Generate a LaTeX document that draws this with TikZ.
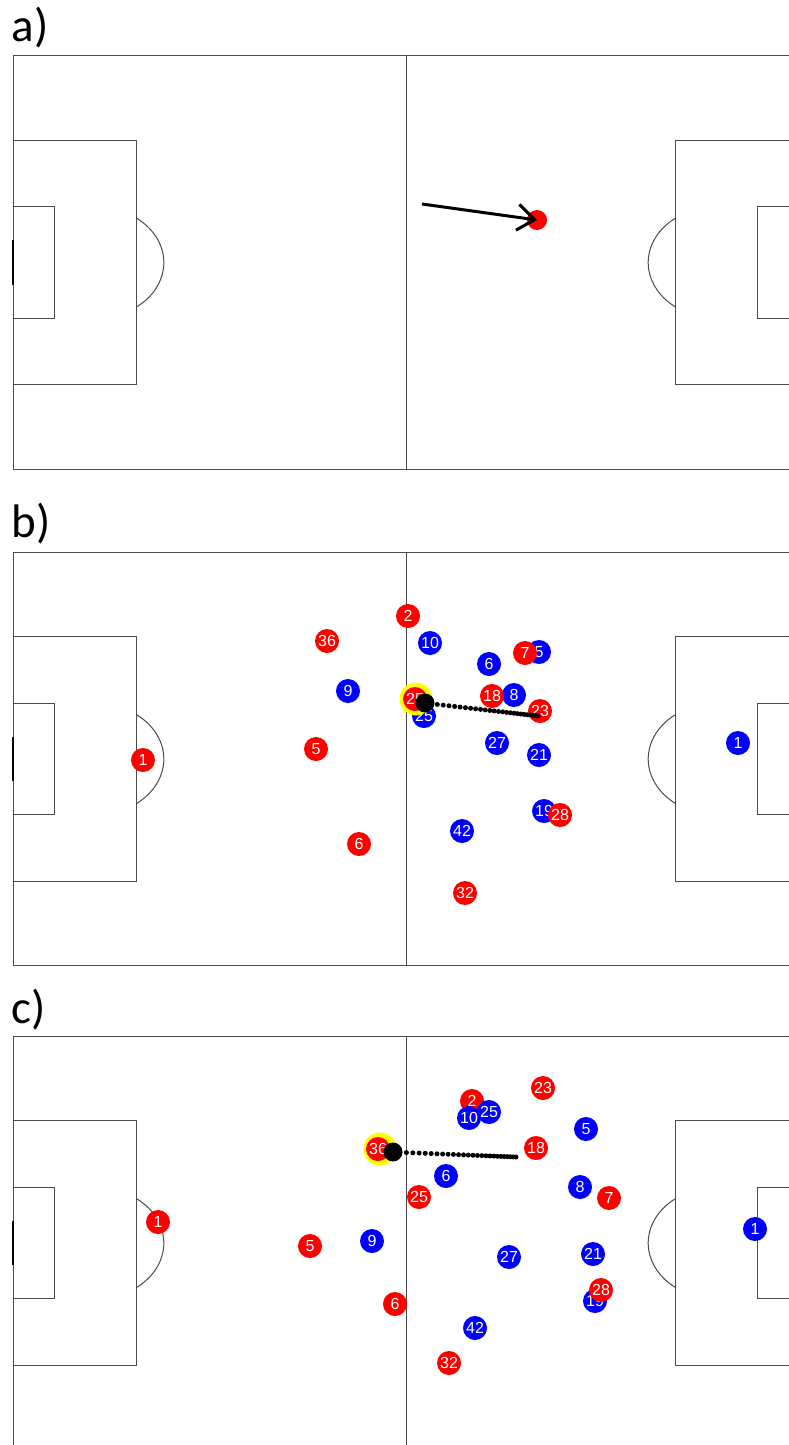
\documentclass[tikz,border=0pt]{standalone}
\usepackage{fontspec}
\setmainfont{Carlito}
\setsansfont{Liberation Sans}
\usetikzlibrary{arrows.meta,calc}
\definecolor{lineaCampo}{HTML}{4A4A4A}
\definecolor{rojoEq}{HTML}{FF0000}
\definecolor{azulEq}{HTML}{0000FF}
\definecolor{resalte}{HTML}{FFFF00}

\tikzset{
  campo/.style={draw=lineaCampo,line width=1pt},
  porteria/.style={draw=black,line width=2.4pt},
  jugador/.style={circle,inner sep=0pt,minimum size=24pt,text=white,
    font={\sffamily\fontsize{16pt}{16pt}\selectfont}},
  rojo/.style={jugador,fill=rojoEq},
  azul/.style={jugador,fill=azulEq},
  aro/.style={circle,inner sep=0pt,minimum size=33pt,fill=resalte},
  balon/.style={circle,inner sep=0pt,minimum size=19pt,fill=black},
  panel/.style={anchor=base west,font={\fontsize{47pt}{47pt}\selectfont}}
}

% pitch 105 x 68 m, top left corner at (13,#1) px
\newcommand{\campo}[1]{%
  \begin{scope}[shift={(13,#1)},x=7.486pt,y=-6.074pt,campo]
    \draw (0,0) rectangle (105,68);
    \draw (52.5,0) -- (52.5,68);
    \draw (0,13.84) rectangle (16.5,54.16);
    \draw (0,24.84) rectangle (5.5,43.16);
    \draw (105,13.84) rectangle (88.5,54.16);
    \draw (105,24.84) rectangle (99.5,43.16);
    \draw (16.5,26.69) arc[start angle=53.06,end angle=-53.06,
      x radius=68.5pt,y radius=55.6pt];
    \draw (88.5,26.69) arc[start angle=126.94,end angle=233.06,
      x radius=68.5pt,y radius=55.6pt];
    \draw[porteria] (0,30.34) -- (0,37.66);
  \end{scope}}

% dotted ball path from #1 to #2
\newcommand{\estela}[2]{%
  \foreach \i in {1,...,26}{
    \pgfmathsetmacro{\t}{(\i/26)*(1.45-0.45*\i/26)}
    \fill ($(#1)!\t!(#2)$) circle[radius=2.5pt];
  }}

\begin{document}
\begin{tikzpicture}[x=1pt,y=-1pt]
  \clip (0,0) rectangle (789,1445);
  \fill[white] (0,0) rectangle (789,1445);

  % a)
  \node[panel] (etqa) at (8,42) {a)};
  \campo{56}
  \node[circle,inner sep=0pt,minimum size=20pt,fill=rojoEq] (pelotaa) at (537,220) {};
  \coordinate (inicioa) at (422,204);
  \draw[line width=3pt,-{Straight Barb[length=17pt,width=26pt]}]
    (inicioa) -- (pelotaa.center);

  % b)
  \node[panel] (etqb) at (8,537) {b)};
  \campo{552.5}
  \node[azul] (b10b) at (430,643) {10};
  \node[azul] (b6b) at (489,664) {6};
  \node[azul] (b5b) at (539,652) {5};
  \node[azul] (b9b) at (348,691) {9};
  \node[azul] (b8b) at (514,695) {8};
  \node[azul] (b25b) at (424,716) {25};
  \node[azul] (b27b) at (497,743) {27};
  \node[azul] (b21b) at (539,755) {21};
  \node[azul] (b19b) at (544,811) {19};
  \node[azul] (b42b) at (462,831) {42};
  \node[azul] (b1b) at (738,743) {1};
  \node[rojo] (r2b) at (408,616) {2};
  \node[rojo] (r36b) at (327,641) {36};
  \node[rojo] (r7b) at (525,653) {7};
  \node[rojo] (r18b) at (492,696) {18};
  \node[aro] (arob) at (416,699) {};
  \node[rojo] (r25b) at (415,699) {25};
  \node[rojo] (r23b) at (540,711) {23};
  \node[rojo] (r5b) at (316,749) {5};
  \node[rojo] (r1b) at (143,760) {1};
  \node[rojo] (r28b) at (560,815) {28};
  \node[rojo] (r6b) at (359,844) {6};
  \node[rojo] (r32b) at (465,893) {32};
  \coordinate (finb) at (538,716);
  \estela{425,703}{finb}
  \node[balon] (balonb) at (425,703) {};

  % c)
  \node[panel] (etqc) at (8,1023) {c)};
  \campo{1036.5}
  \node[rojo] (r23c) at (543,1088) {23};
  \node[rojo] (r2c) at (472,1101) {2};
  \node[aro] (aroc) at (380,1149) {};
  \node[rojo] (r36c) at (378,1149) {36};
  \node[rojo] (r18c) at (536,1148) {18};
  \node[rojo] (r25c) at (419,1197) {25};
  \node[rojo] (r7c) at (609,1198) {7};
  \node[rojo] (r5c) at (310,1246) {5};
  \node[rojo] (r6c) at (395,1304) {6};
  \node[rojo] (r32c) at (449,1363) {32};
  \node[rojo] (r1c) at (158,1222) {1};
  \node[azul] (b25c) at (489,1112) {25};
  \node[azul] (b10c) at (469,1118) {10};
  \node[azul] (b5c) at (586,1129) {5};
  \node[azul] (b6c) at (446,1176) {6};
  \node[azul] (b8c) at (580,1187) {8};
  \node[azul] (b9c) at (372,1241) {9};
  \node[azul] (b27c) at (509,1257) {27};
  \node[azul] (b21c) at (593,1254) {21};
  \node[azul] (b19c) at (595,1301) {19};
  \node[azul] (b42c) at (475,1328) {42};
  \node[azul] (b1c) at (755,1229) {1};
  \node[rojo] (r28c) at (601,1290) {28};
  \coordinate (finc) at (516,1157);
  \estela{393,1152}{finc}
  \node[balon] (balonc) at (393,1152) {};
\end{tikzpicture}
\end{document}
